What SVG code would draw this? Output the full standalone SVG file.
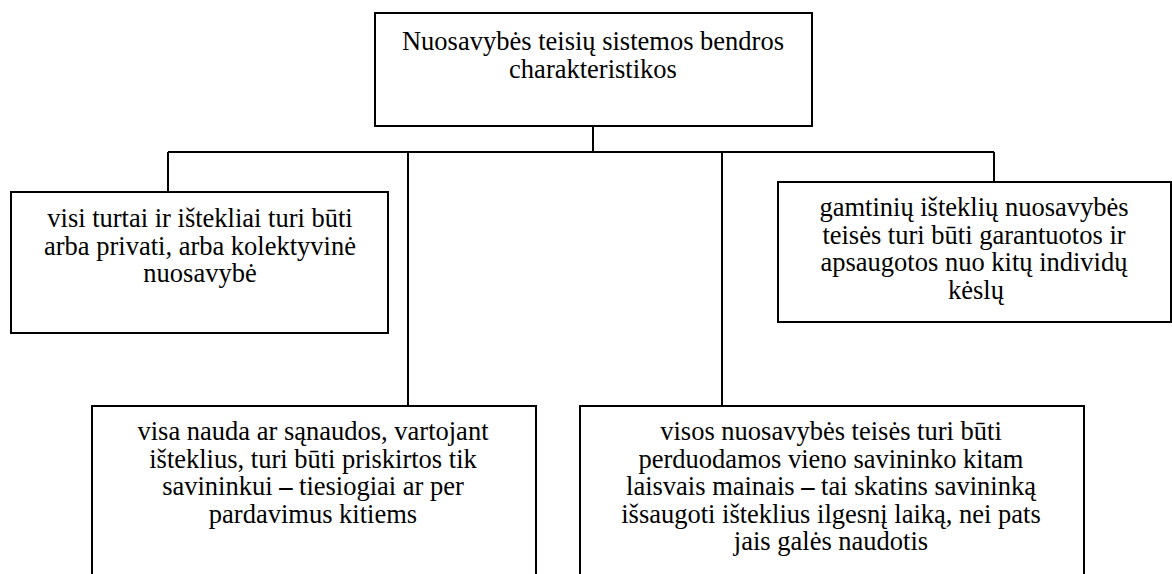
<svg xmlns="http://www.w3.org/2000/svg" width="1172" height="574" viewBox="0 0 1172 574">
<style>
.box{fill:#fff;stroke:#000;stroke-width:2}
.con{fill:none;stroke:#000;stroke-width:2}
.t{font-family:'Liberation Serif','Times New Roman',serif;font-size:26.5px;fill:#000;text-anchor:middle}
</style>
<rect width="1172" height="574" fill="#fff"/>
<g id="connectors">
<path class="con" d="M593 126V152M168 152H994M168 152V192M408 152V406M722 152V406M994 152V182"/>
</g>
<g id="root" class="t">
<rect class="box" x="375" y="13" width="437" height="113"/>
<text x="593" y="50">Nuosavybės teisių sistemos bendros</text>
<text x="593" y="78">charakteristikos</text>
</g>
<g id="n1" class="t">
<rect class="box" x="11" y="192" width="377" height="141"/>
<text x="200" y="227">visi turtai ir ištekliai turi būti</text>
<text x="200" y="254.5">arba privati, arba kolektyvinė</text>
<text x="200" y="282">nuosavybė</text>
</g>
<g id="n2" class="t">
<rect class="box" x="778" y="182" width="393" height="140"/>
<text x="974" y="216">gamtinių išteklių nuosavybės</text>
<text x="974" y="243.5">teisės turi būti garantuotos ir</text>
<text x="974" y="271">apsaugotos nuo kitų individų</text>
<text x="976" y="298.5">kėslų</text>
</g>
<g id="n3" class="t">
<path class="box" d="M92 580V406H536V580"/>
<text x="313" y="440">visa nauda ar sąnaudos, vartojant</text>
<text x="313" y="467.5">išteklius, turi būti priskirtos tik</text>
<text x="313" y="495">savininkui <tspan font-weight="bold">–</tspan> tiesiogiai ar per</text>
<text x="313" y="522.5">pardavimus kitiems</text>
</g>
<g id="n4" class="t">
<path class="box" d="M580 580V406H1084V580"/>
<text x="831" y="440">visos nuosavybės teisės turi būti</text>
<text x="831" y="467.5">perduodamos vieno savininko kitam</text>
<text x="831" y="495">laisvais mainais <tspan font-weight="bold">–</tspan> tai skatins savininką</text>
<text x="831" y="522.5">išsaugoti išteklius ilgesnį laiką, nei pats</text>
<text x="831" y="550">jais galės naudotis</text>
</g>
</svg>
